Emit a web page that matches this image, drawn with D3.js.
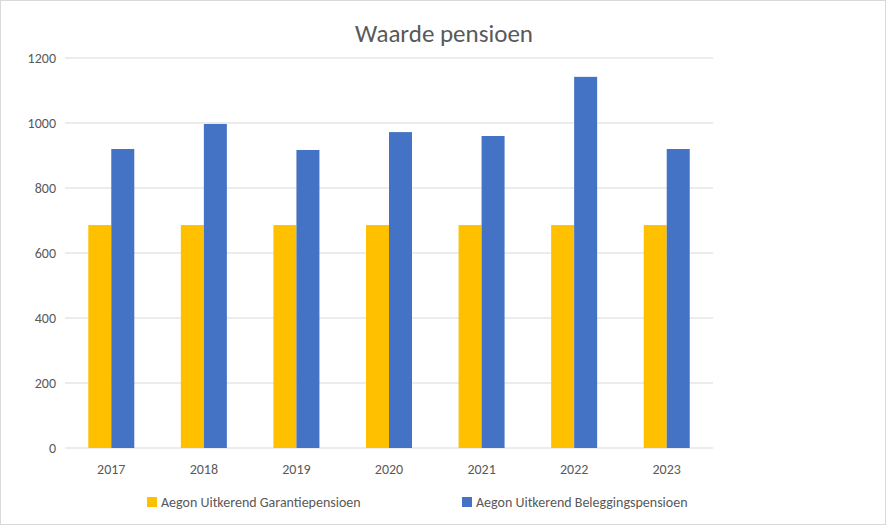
<!doctype html>
<html lang="en">
<head>
<meta charset="utf-8" />
<script src="https://cdn.jsdelivr.net/npm/d3@7"></script>
<style>body{margin:0;background:#fff;}</style>
</head>
<body>
<script>
var years = ["2017","2018","2019","2020","2021","2022","2023"];
var garantie = [686, 686, 686, 686, 686, 686, 686];
var belegging = [920, 997, 917, 972, 960, 1142, 920];
var yTicks = [0, 200, 400, 600, 800, 1000, 1200];
var seriesNames = ["Aegon Uitkerend Garantiepensioen", "Aegon Uitkerend Beleggingspensioen"];
var colors = ["#FFC000", "#4472C4"];

var w = 891, h = 529;
var svg = d3.select("body").append("svg").attr("width", w).attr("height", h)
  .style("font-family", "Calibri, Carlito, 'Liberation Sans', sans-serif");

svg.append("rect").attr("x", 0.5).attr("y", 0.5).attr("width", 885).attr("height", 524)
  .attr("fill", "#fff").attr("stroke", "#d9d9d9");

var x = d3.scaleBand().domain(years).range([65, 713]);
var y = d3.scaleLinear().domain([0, 1200]).range([448, 58]);

svg.selectAll(".grid").data(yTicks).enter().append("line")
  .attr("x1", 65).attr("x2", 713)
  .attr("y1", function(d){ return y(d); }).attr("y2", function(d){ return y(d); })
  .attr("stroke", "#d9d9d9");

svg.selectAll(".yl").data(yTicks).enter().append("text")
  .attr("x", 56).attr("y", function(d){ return y(d) + 5; })
  .attr("text-anchor", "end").attr("font-size", "14px").attr("fill", "#595959")
  .text(function(d){ return d; });

var bw = 23;
[garantie, belegging].forEach(function(vals, s){
  svg.selectAll(".b" + s).data(vals).enter().append("rect")
    .attr("x", function(d, i){ return x(years[i]) + x.bandwidth()/2 - bw + s*bw; })
    .attr("y", function(d){ return y(d); })
    .attr("width", bw)
    .attr("height", function(d){ return y(0) - y(d); })
    .attr("fill", colors[s]);
});

svg.selectAll(".xl").data(years).enter().append("text")
  .attr("x", function(d){ return x(d) + x.bandwidth()/2; }).attr("y", 474)
  .attr("text-anchor", "middle").attr("font-size", "14px").attr("fill", "#595959")
  .text(function(d){ return d; });

svg.append("text").attr("x", 444).attr("y", 42).attr("text-anchor", "middle")
  .attr("font-size", "25px").attr("fill", "#595959").text("Waarde pensioen");

var lx = [147, 462];
seriesNames.forEach(function(n, i){
  svg.append("rect").attr("x", lx[i]).attr("y", 497).attr("width", 10).attr("height", 10).attr("fill", colors[i]);
  svg.append("text").attr("x", lx[i] + 14).attr("y", 507).attr("font-size", "14px")
    .attr("fill", "#595959").text(n);
});
</script>
</body>
</html>
